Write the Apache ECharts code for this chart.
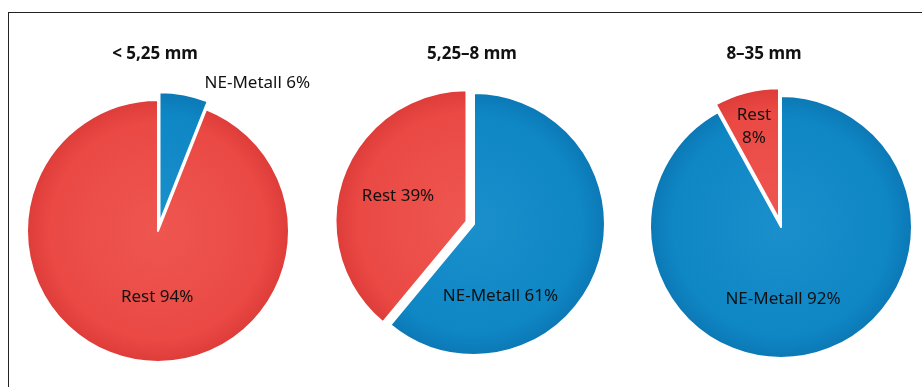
<!DOCTYPE html>
<html>
<head>
<meta charset="utf-8">
<script src="https://cdn.jsdelivr.net/npm/echarts@6/dist/echarts.min.js"></script>
<style>
  html, body { margin: 0; padding: 0; background: #fff; }
  #frame { position: absolute; left: 8px; top: 12px; right: 0; bottom: 0;
           border-left: 1.5px solid #222; border-top: 1.5px solid #222; }
  #main { position: absolute; left: 0; top: 0; width: 922px; height: 387px; }
</style>
</head>
<body>
<div id="frame"></div>
<div id="main"></div>
<script>
// Korngrößenklassen und Anteile (NE-Metall / Rest) in %
const classes = ['< 5,25 mm', '5,25–8 mm', '8–35 mm'];
const parts = ['NE-Metall', 'Rest'];
const neMetall = [6, 61, 92];
const rest = [94, 39, 8];
// welcher Anteil herausgerückt ist
const pulledOut = ['NE-Metall', 'Rest', 'Rest'];

const FONT = 'Noto Sans';

const centers = [[158, 231], [474, 224], [781, 227]];
const R = 131;
const titleX = [155, 472, 764];
// Verschiebung der Beschriftungen gegenüber der Standardlage
const labelShift = [
  [[85, -73], [12, -1]],
  [[-38, 49], [-4, -2]],
  [[-15, 6], [-8, -26]]
];

function shade(c, light, mid, dark) {
  return new echarts.graphic.RadialGradient(c[0], c[1], R + 4, [
    { offset: 0, color: light },
    { offset: 0.8, color: mid },
    { offset: 1, color: dark }
  ], true);
}

const chart = echarts.init(document.getElementById('main'));

const series = classes.map(function (c, i) {
  const blue = shade(centers[i], '#1a8fcb', '#0f87c5', '#0b76b3');
  const red = shade(centers[i], '#ef5650', '#ea4944', '#dc3a37');
  return {
    type: 'pie',
    name: c,
    center: centers[i],
    radius: R,
    startAngle: 90,
    clockwise: true,
    selectedMode: 'single',
    selectedOffset: 8,
    animation: false,
    silent: true,
    itemStyle: { borderColor: '#fff', borderWidth: 2 },
    label: {
      position: 'inside',
      color: '#111',
      fontFamily: FONT,
      fontSize: 17,
      lineHeight: 23,
      formatter: function (p) {
        if (i === 2 && p.name === 'Rest') return p.name + '\n' + p.value + '%';
        return p.name + ' ' + p.value + '%';
      }
    },
    labelLine: { show: false },
    labelLayout: function (p) {
      const s = labelShift[i][p.dataIndex];
      return { dx: s[0], dy: s[1] };
    },
    data: [
      { name: parts[0], value: neMetall[i], selected: pulledOut[i] === parts[0],
        itemStyle: { color: blue } },
      { name: parts[1], value: rest[i], selected: pulledOut[i] === parts[1],
        itemStyle: { color: red } }
    ]
  };
});

chart.setOption({
  backgroundColor: 'transparent',
  title: classes.map(function (c, i) {
    return {
      text: c,
      left: titleX[i],
      top: 46,
      padding: 0,
      textAlign: 'center',
      textStyle: { fontFamily: FONT, fontSize: 17, fontWeight: 'bold', color: '#111' }
    };
  }),
  series: series
});
</script>
</body>
</html>
